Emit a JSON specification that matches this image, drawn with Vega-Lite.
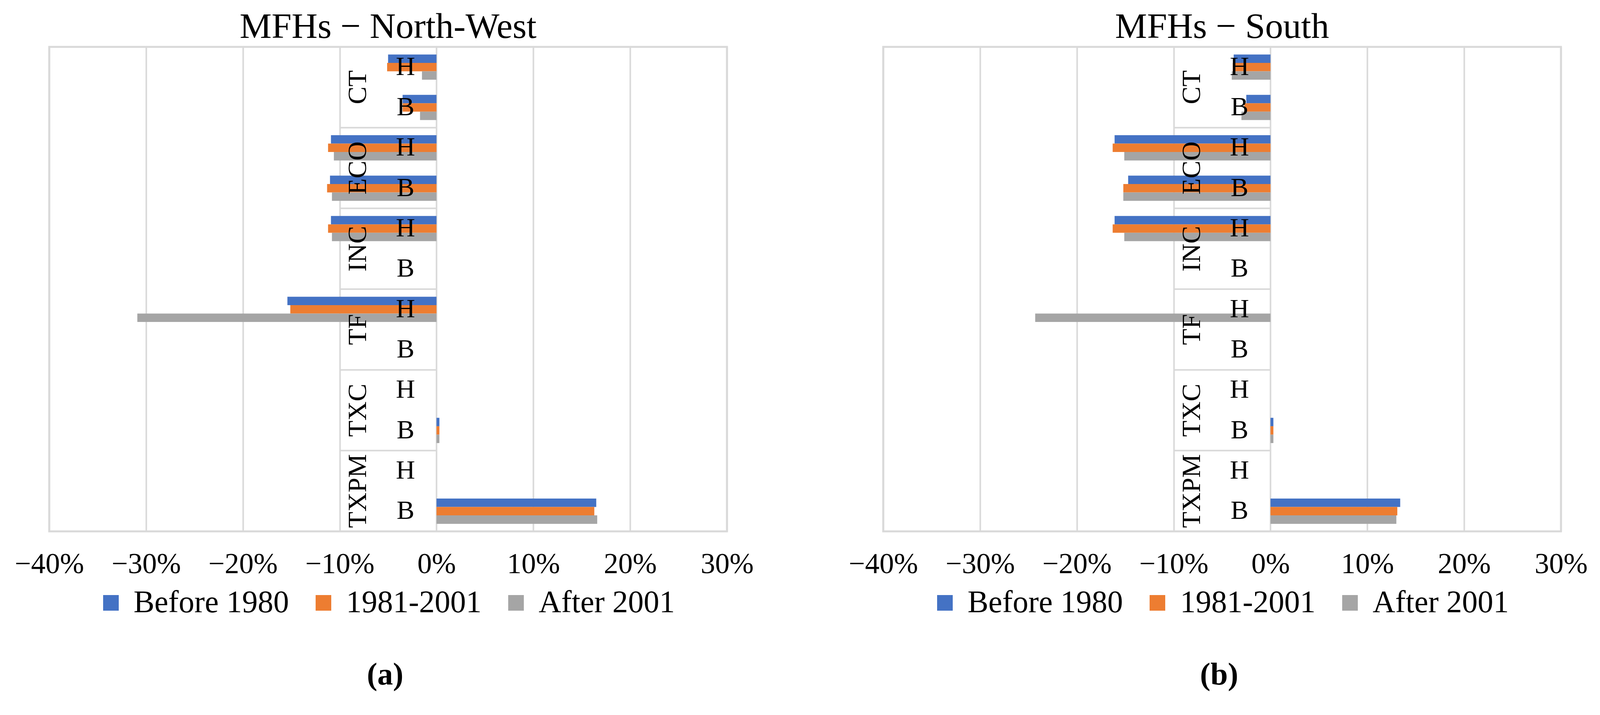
{
  "$schema": "https://vega.github.io/schema/vega-lite/v6.json",
  "padding": {"left": 34, "top": 20, "right": 20, "bottom": 10},
  "background": "white",
  "datasets": {
    "d": [
      {"panel": "a", "group": "CT", "sub": "H", "row": "CT H", "period": "Before 1980", "value": -0.050},
      {"panel": "a", "group": "CT", "sub": "H", "row": "CT H", "period": "1981-2001", "value": -0.051},
      {"panel": "a", "group": "CT", "sub": "H", "row": "CT H", "period": "After 2001", "value": -0.015},
      {"panel": "a", "group": "CT", "sub": "B", "row": "CT B", "period": "Before 1980", "value": -0.035},
      {"panel": "a", "group": "CT", "sub": "B", "row": "CT B", "period": "1981-2001", "value": -0.035},
      {"panel": "a", "group": "CT", "sub": "B", "row": "CT B", "period": "After 2001", "value": -0.017},
      {"panel": "a", "group": "ECO", "sub": "H", "row": "ECO H", "period": "Before 1980", "value": -0.109},
      {"panel": "a", "group": "ECO", "sub": "H", "row": "ECO H", "period": "1981-2001", "value": -0.112},
      {"panel": "a", "group": "ECO", "sub": "H", "row": "ECO H", "period": "After 2001", "value": -0.106},
      {"panel": "a", "group": "ECO", "sub": "B", "row": "ECO B", "period": "Before 1980", "value": -0.110},
      {"panel": "a", "group": "ECO", "sub": "B", "row": "ECO B", "period": "1981-2001", "value": -0.113},
      {"panel": "a", "group": "ECO", "sub": "B", "row": "ECO B", "period": "After 2001", "value": -0.108},
      {"panel": "a", "group": "INC", "sub": "H", "row": "INC H", "period": "Before 1980", "value": -0.109},
      {"panel": "a", "group": "INC", "sub": "H", "row": "INC H", "period": "1981-2001", "value": -0.112},
      {"panel": "a", "group": "INC", "sub": "H", "row": "INC H", "period": "After 2001", "value": -0.108},
      {"panel": "a", "group": "INC", "sub": "B", "row": "INC B", "period": "Before 1980", "value": 0},
      {"panel": "a", "group": "INC", "sub": "B", "row": "INC B", "period": "1981-2001", "value": 0},
      {"panel": "a", "group": "INC", "sub": "B", "row": "INC B", "period": "After 2001", "value": 0},
      {"panel": "a", "group": "TF", "sub": "H", "row": "TF H", "period": "Before 1980", "value": -0.154},
      {"panel": "a", "group": "TF", "sub": "H", "row": "TF H", "period": "1981-2001", "value": -0.151},
      {"panel": "a", "group": "TF", "sub": "H", "row": "TF H", "period": "After 2001", "value": -0.309},
      {"panel": "a", "group": "TF", "sub": "B", "row": "TF B", "period": "Before 1980", "value": 0},
      {"panel": "a", "group": "TF", "sub": "B", "row": "TF B", "period": "1981-2001", "value": 0},
      {"panel": "a", "group": "TF", "sub": "B", "row": "TF B", "period": "After 2001", "value": 0},
      {"panel": "a", "group": "TXC", "sub": "H", "row": "TXC H", "period": "Before 1980", "value": 0},
      {"panel": "a", "group": "TXC", "sub": "H", "row": "TXC H", "period": "1981-2001", "value": 0},
      {"panel": "a", "group": "TXC", "sub": "H", "row": "TXC H", "period": "After 2001", "value": 0},
      {"panel": "a", "group": "TXC", "sub": "B", "row": "TXC B", "period": "Before 1980", "value": 0.003},
      {"panel": "a", "group": "TXC", "sub": "B", "row": "TXC B", "period": "1981-2001", "value": 0.003},
      {"panel": "a", "group": "TXC", "sub": "B", "row": "TXC B", "period": "After 2001", "value": 0.003},
      {"panel": "a", "group": "TXPM", "sub": "H", "row": "TXPM H", "period": "Before 1980", "value": 0},
      {"panel": "a", "group": "TXPM", "sub": "H", "row": "TXPM H", "period": "1981-2001", "value": 0},
      {"panel": "a", "group": "TXPM", "sub": "H", "row": "TXPM H", "period": "After 2001", "value": 0},
      {"panel": "a", "group": "TXPM", "sub": "B", "row": "TXPM B", "period": "Before 1980", "value": 0.165},
      {"panel": "a", "group": "TXPM", "sub": "B", "row": "TXPM B", "period": "1981-2001", "value": 0.163},
      {"panel": "a", "group": "TXPM", "sub": "B", "row": "TXPM B", "period": "After 2001", "value": 0.166},
      {"panel": "b", "group": "CT", "sub": "H", "row": "CT H", "period": "Before 1980", "value": -0.038},
      {"panel": "b", "group": "CT", "sub": "H", "row": "CT H", "period": "1981-2001", "value": -0.039},
      {"panel": "b", "group": "CT", "sub": "H", "row": "CT H", "period": "After 2001", "value": -0.040},
      {"panel": "b", "group": "CT", "sub": "B", "row": "CT B", "period": "Before 1980", "value": -0.025},
      {"panel": "b", "group": "CT", "sub": "B", "row": "CT B", "period": "1981-2001", "value": -0.027},
      {"panel": "b", "group": "CT", "sub": "B", "row": "CT B", "period": "After 2001", "value": -0.030},
      {"panel": "b", "group": "ECO", "sub": "H", "row": "ECO H", "period": "Before 1980", "value": -0.161},
      {"panel": "b", "group": "ECO", "sub": "H", "row": "ECO H", "period": "1981-2001", "value": -0.163},
      {"panel": "b", "group": "ECO", "sub": "H", "row": "ECO H", "period": "After 2001", "value": -0.151},
      {"panel": "b", "group": "ECO", "sub": "B", "row": "ECO B", "period": "Before 1980", "value": -0.147},
      {"panel": "b", "group": "ECO", "sub": "B", "row": "ECO B", "period": "1981-2001", "value": -0.152},
      {"panel": "b", "group": "ECO", "sub": "B", "row": "ECO B", "period": "After 2001", "value": -0.152},
      {"panel": "b", "group": "INC", "sub": "H", "row": "INC H", "period": "Before 1980", "value": -0.161},
      {"panel": "b", "group": "INC", "sub": "H", "row": "INC H", "period": "1981-2001", "value": -0.163},
      {"panel": "b", "group": "INC", "sub": "H", "row": "INC H", "period": "After 2001", "value": -0.151},
      {"panel": "b", "group": "INC", "sub": "B", "row": "INC B", "period": "Before 1980", "value": 0},
      {"panel": "b", "group": "INC", "sub": "B", "row": "INC B", "period": "1981-2001", "value": 0},
      {"panel": "b", "group": "INC", "sub": "B", "row": "INC B", "period": "After 2001", "value": 0},
      {"panel": "b", "group": "TF", "sub": "H", "row": "TF H", "period": "Before 1980", "value": 0},
      {"panel": "b", "group": "TF", "sub": "H", "row": "TF H", "period": "1981-2001", "value": 0},
      {"panel": "b", "group": "TF", "sub": "H", "row": "TF H", "period": "After 2001", "value": -0.243},
      {"panel": "b", "group": "TF", "sub": "B", "row": "TF B", "period": "Before 1980", "value": 0},
      {"panel": "b", "group": "TF", "sub": "B", "row": "TF B", "period": "1981-2001", "value": 0},
      {"panel": "b", "group": "TF", "sub": "B", "row": "TF B", "period": "After 2001", "value": 0},
      {"panel": "b", "group": "TXC", "sub": "H", "row": "TXC H", "period": "Before 1980", "value": 0},
      {"panel": "b", "group": "TXC", "sub": "H", "row": "TXC H", "period": "1981-2001", "value": 0},
      {"panel": "b", "group": "TXC", "sub": "H", "row": "TXC H", "period": "After 2001", "value": 0},
      {"panel": "b", "group": "TXC", "sub": "B", "row": "TXC B", "period": "Before 1980", "value": 0.003},
      {"panel": "b", "group": "TXC", "sub": "B", "row": "TXC B", "period": "1981-2001", "value": 0.003},
      {"panel": "b", "group": "TXC", "sub": "B", "row": "TXC B", "period": "After 2001", "value": 0.003},
      {"panel": "b", "group": "TXPM", "sub": "H", "row": "TXPM H", "period": "Before 1980", "value": 0},
      {"panel": "b", "group": "TXPM", "sub": "H", "row": "TXPM H", "period": "1981-2001", "value": 0},
      {"panel": "b", "group": "TXPM", "sub": "H", "row": "TXPM H", "period": "After 2001", "value": 0},
      {"panel": "b", "group": "TXPM", "sub": "B", "row": "TXPM B", "period": "Before 1980", "value": 0.134},
      {"panel": "b", "group": "TXPM", "sub": "B", "row": "TXPM B", "period": "1981-2001", "value": 0.131},
      {"panel": "b", "group": "TXPM", "sub": "B", "row": "TXPM B", "period": "After 2001", "value": 0.130}
    ]
  },
  "config": {
    "font": "Liberation Serif",
    "view": {"stroke": "#d9d9d9", "strokeWidth": 5},
    "title": {"font": "Liberation Serif", "fontSize": 92, "fontWeight": "normal", "color": "black", "anchor": "middle", "baseline": "alphabetic", "offset": 0},
    "axisX": {"grid": true, "gridColor": "#d9d9d9", "gridWidth": 4, "domain": false, "ticks": false, "tickSize": 0, "labelFont": "Liberation Serif", "labelFontSize": 74, "labelColor": "black", "labelPadding": 48, "labelFlush": false, "labelOverlap": false},
    "legend": {"padding": 0, "labelFont": "Liberation Serif", "labelFontSize": 80, "labelColor": "black", "labelLimit": 0, "symbolType": "square", "symbolSize": 1600, "symbolStrokeWidth": 0, "columnPadding": 48, "labelOffset": 18, "titleFont": "Liberation Serif", "titleFontSize": 80, "titleFontWeight": "bold", "titleColor": "black", "titleOrient": "bottom", "titleAnchor": "middle", "titlePadding": 106, "titleLimit": 0},
    "text": {"font": "Liberation Serif", "color": "black"}
  },
  "spacing": 400,
  "bounds": "flush",
  "resolve": {"scale": {"color": "independent", "x": "independent", "y": "independent"}, "legend": {"color": "independent"}},
  "hconcat": [
    {
      "width": 1735,
      "height": 1240,
      "title": {"text": "MFHs − North-West"},
      "data": {"name": "d"},
      "transform": [{"filter": "datum.panel == 'a'"}],
      "layer": [
        {
          "mark": {"type": "bar"},
          "encoding": {
            "y": {"field": "row", "type": "nominal", "axis": null, "scale": {"domain": ["CT H", "CT B", "ECO H", "ECO B", "INC H", "INC B", "TF H", "TF B", "TXC H", "TXC B", "TXPM H", "TXPM B"], "paddingInner": 0, "paddingOuter": 0}},
            "yOffset": {"field": "period", "type": "nominal", "scale": {"domain": ["Before 1980", "1981-2001", "After 2001"], "paddingInner": 0, "paddingOuter": 0.9}},
            "x": {"field": "value", "type": "quantitative", "title": null, "scale": {"domain": [-0.4, 0.3], "nice": false}, "axis": {"format": ".0%", "values": [-0.4, -0.3, -0.2, -0.1, 0, 0.1, 0.2, 0.3]}},
            "color": {"field": "period", "type": "nominal", "scale": {"domain": ["Before 1980", "1981-2001", "After 2001"], "range": ["#4472C4", "#ED7D31", "#A5A5A5"]}, "legend": {"title": "(a)", "orient": "none", "legendX": 118, "legendY": 1383, "direction": "horizontal", "gridAlign": "each"}}
          }
        },
        {
          "transform": [{"filter": "datum.sub == 'H' && datum.group != 'CT' && datum.period == 'Before 1980'"}],
          "mark": {"type": "rule", "color": "#d9d9d9", "strokeWidth": 4},
          "encoding": {
            "y": {"field": "row", "type": "nominal", "bandPosition": 0},
            "x": {"datum": -0.1},
            "x2": {"datum": 0}
          }
        },
        {
          "transform": [{"filter": "datum.period == 'Before 1980'"}],
          "mark": {"type": "text", "fontSize": 68, "align": "center", "baseline": "middle"},
          "encoding": {
            "y": {"field": "row", "type": "nominal"},
            "x": {"datum": -0.032},
            "text": {"field": "sub"}
          }
        },
        {
          "transform": [{"filter": "datum.sub == 'H' && datum.period == 'Before 1980'"}],
          "mark": {"type": "text", "fontSize": 68, "align": "center", "baseline": "middle", "angle": 270},
          "encoding": {
            "y": {"field": "row", "type": "nominal", "bandPosition": 1},
            "x": {"datum": -0.081},
            "text": {"field": "group"}
          }
        }
      ]
    },
    {
      "width": 1735,
      "height": 1240,
      "title": {"text": "MFHs − South"},
      "data": {"name": "d"},
      "transform": [{"filter": "datum.panel == 'b'"}],
      "layer": [
        {
          "mark": {"type": "bar"},
          "encoding": {
            "y": {"field": "row", "type": "nominal", "axis": null, "scale": {"domain": ["CT H", "CT B", "ECO H", "ECO B", "INC H", "INC B", "TF H", "TF B", "TXC H", "TXC B", "TXPM H", "TXPM B"], "paddingInner": 0, "paddingOuter": 0}},
            "yOffset": {"field": "period", "type": "nominal", "scale": {"domain": ["Before 1980", "1981-2001", "After 2001"], "paddingInner": 0, "paddingOuter": 0.9}},
            "x": {"field": "value", "type": "quantitative", "title": null, "scale": {"domain": [-0.4, 0.3], "nice": false}, "axis": {"format": ".0%", "values": [-0.4, -0.3, -0.2, -0.1, 0, 0.1, 0.2, 0.3]}},
            "color": {"field": "period", "type": "nominal", "scale": {"domain": ["Before 1980", "1981-2001", "After 2001"], "range": ["#4472C4", "#ED7D31", "#A5A5A5"]}, "legend": {"title": "(b)", "orient": "none", "legendX": 118, "legendY": 1383, "direction": "horizontal", "gridAlign": "each"}}
          }
        },
        {
          "transform": [{"filter": "datum.sub == 'H' && datum.group != 'CT' && datum.period == 'Before 1980'"}],
          "mark": {"type": "rule", "color": "#d9d9d9", "strokeWidth": 4},
          "encoding": {
            "y": {"field": "row", "type": "nominal", "bandPosition": 0},
            "x": {"datum": -0.1},
            "x2": {"datum": 0}
          }
        },
        {
          "transform": [{"filter": "datum.period == 'Before 1980'"}],
          "mark": {"type": "text", "fontSize": 68, "align": "center", "baseline": "middle"},
          "encoding": {
            "y": {"field": "row", "type": "nominal"},
            "x": {"datum": -0.032},
            "text": {"field": "sub"}
          }
        },
        {
          "transform": [{"filter": "datum.sub == 'H' && datum.period == 'Before 1980'"}],
          "mark": {"type": "text", "fontSize": 68, "align": "center", "baseline": "middle", "angle": 270},
          "encoding": {
            "y": {"field": "row", "type": "nominal", "bandPosition": 1},
            "x": {"datum": -0.081},
            "text": {"field": "group"}
          }
        }
      ]
    }
  ]
}
